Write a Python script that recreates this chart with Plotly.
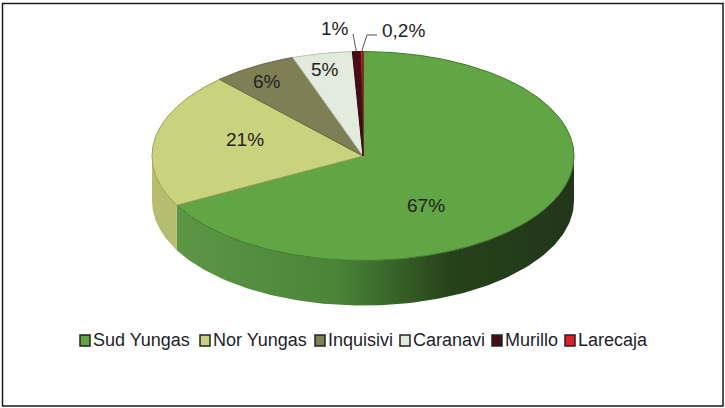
import numpy as np
import plotly.graph_objects as go

# datos
regiones = ['Sud Yungas', 'Nor Yungas', 'Inquisivi', 'Caranavi', 'Murillo', 'Larecaja']
valores = [67.2, 20.9, 6.5, 4.6, 0.6, 0.2]
etiquetas = ['67%', '21%', '6%', '5%', '1%', '0,2%']
colores = ['#62a544', '#c9d27c', '#7f7f55', '#e2ebdd', '#4a0c14', '#e01f2a']
bordes = ['#3f7a2c', '#9aa356', '#66663f', '#b9c0b0', '#2e060b', '#4a0c14']

CX, CY, RX, RY, ALTO = 363, 156, 211, 104.5, 45


def borde(theta):
    # theta en grados, horario desde las 12
    t = np.radians(theta)
    return CX + RX * np.sin(t), CY - RY * np.cos(t)


fracciones = np.array(valores) / sum(valores) * 360
fines = np.cumsum(fracciones)
inicios = fines - fracciones

fig = go.Figure()

# pared lateral, solo la mitad delantera
for i in range(2):
    a, b = max(inicios[i], 90), min(fines[i], 270)
    x, y = borde(np.linspace(a, b, 120))
    if i == 0:
        relleno = dict(fillgradient=dict(type='horizontal', start=176, stop=574,
                                         colorscale=[[0, '#5c9646'], [0.41, '#4a8437'],
                                                     [0.69, '#26421a'], [1, '#22361a']]))
    else:
        relleno = dict(fillcolor='#b7bd6e')
    fig.add_trace(go.Scatter(x=np.r_[x, x[::-1]], y=np.r_[y, y[::-1] + ALTO], mode='lines',
                             fill='toself', line=dict(width=0), hoverinfo='skip',
                             showlegend=False, **relleno))

# cara superior
for ini, fin, color, linea, nombre in zip(inicios, fines, colores, bordes, regiones):
    x, y = borde(np.linspace(ini, fin, max(int(fin - ini) * 2, 3)))
    fig.add_trace(go.Scatter(x=np.r_[CX, x, CX], y=np.r_[CY, y, CY], mode='lines', fill='toself',
                             fillcolor=color, line=dict(width=1, color=linea), name=nombre,
                             hoverinfo='name', showlegend=False))

# lineas guia de los dos sectores chicos
x1, y1 = borde((inicios[4] + fines[4]) / 2)
x2, y2 = borde((inicios[5] + fines[5]) / 2)
fig.add_trace(go.Scatter(x=[353, x1], y=[34, y1], mode='lines', line=dict(width=1, color='#555555'),
                         hoverinfo='skip', showlegend=False))
fig.add_trace(go.Scatter(x=[377, 367, x2], y=[35, 35, y2], mode='lines', line=dict(width=1, color='#555555'),
                         hoverinfo='skip', showlegend=False))

fig.update_layout(
    width=725, height=408, margin=dict(l=0, r=0, t=0, b=0), autosize=False,
    paper_bgcolor='white', plot_bgcolor='white', showlegend=False,
    xaxis=dict(range=[0, 725], visible=False, fixedrange=True),
    yaxis=dict(range=[408, 0], visible=False, fixedrange=True),
)

# marco
fig.add_shape(type='rect', x0=2.5, y0=3.5, x1=723, y1=406, line=dict(color='#1a1a1a', width=1.5))

# etiquetas de porcentaje
lugares = [(426, 205), (245, 139), (267, 81), (325, 69), (335, 28), (403, 30)]
for texto, (lx, ly) in zip(etiquetas, lugares):
    fig.add_annotation(x=lx, y=ly, text=texto, showarrow=False, xanchor='center', yanchor='middle',
                       font=dict(family='Liberation Sans', size=19, color='#222222'))

# leyenda a mano porque la de plotly no permite un espaciado tan corto
cuadros = [80, 200, 315, 400, 492, 565]
for nombre, color, cx in zip(regiones, colores, cuadros):
    fig.add_shape(type='rect', x0=cx, y0=335, x1=cx + 10, y1=346, fillcolor=color,
                  line=dict(color='#222222', width=1.5))
    fig.add_annotation(x=cx + 11, y=340, text=nombre, showarrow=False, xanchor='left', yanchor='middle',
                       font=dict(family='Liberation Sans', size=18, color='#1d1d2b'))

# sin el margen del body la figura queda pegada a la ventana
fig.write_html("out.html", config=dict(displayModeBar=False),
               post_script="document.body.style.margin='0';document.body.style.overflow='hidden';")
